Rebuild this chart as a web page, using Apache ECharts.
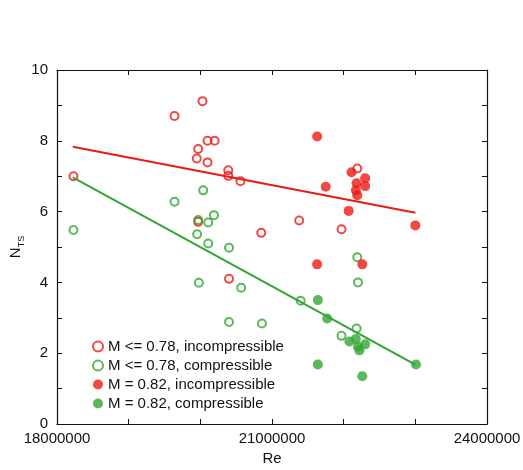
<!DOCTYPE html>
<html>
<head>
<meta charset="utf-8">
<script src="https://cdn.jsdelivr.net/npm/echarts@6/dist/echarts.min.js"></script>
<style>
  html, body { margin: 0; padding: 0; background: #fff; }
  #chart { width: 523px; height: 470px; }
</style>
</head>
<body>
<div id="chart"></div>
<script>
// Re = Reynolds number, N_TS = transition N-factor
const seriesNames = [
  'M <= 0.78, incompressible',
  'M <= 0.78, compressible',
  'M = 0.82, incompressible',
  'M = 0.82, compressible'
];

const lowMachIncomp = [
  [18.23e6, 7.00], [19.64e6, 8.70], [20.03e6, 9.12], [20.10e6, 8.00], [20.20e6, 8.00],
  [19.97e6, 7.77], [19.95e6, 7.50], [20.10e6, 7.39], [20.39e6, 7.17], [20.39e6, 7.01],
  [20.56e6, 6.86], [19.97e6, 5.71], [20.85e6, 5.40], [20.40e6, 4.10], [21.38e6, 5.75],
  [21.97e6, 5.50], [22.19e6, 7.22]
];

const lowMachComp = [
  [18.23e6, 5.48], [19.64e6, 6.28], [20.04e6, 6.60], [20.19e6, 5.90], [19.97e6, 5.76],
  [20.11e6, 5.69], [19.955e6, 5.36], [20.11e6, 5.10], [20.40e6, 4.98], [19.98e6, 3.99],
  [20.57e6, 3.85], [20.40e6, 2.88], [20.86e6, 2.84], [21.40e6, 3.48], [22.19e6, 4.71],
  [22.20e6, 4.00], [22.18e6, 2.70], [21.97e6, 2.49]
];

const highMachIncomp = [
  [21.63e6, 8.12], [22.11e6, 7.11], [22.30e6, 6.94], [21.75e6, 6.70], [22.18e6, 6.80],
  [22.30e6, 6.72], [22.17e6, 6.60], [22.19e6, 6.46], [22.07e6, 6.02], [23.00e6, 5.61],
  [21.63e6, 4.51], [22.26e6, 4.51]
];

const highMachComp = [
  [21.64e6, 3.50], [21.77e6, 2.98], [22.08e6, 2.33], [22.17e6, 2.40], [22.20e6, 2.18],
  [22.30e6, 2.25], [22.22e6, 2.08], [21.64e6, 1.68], [22.26e6, 1.35], [23.01e6, 1.68]
];

// least-squares fit lines (end points in data units)
const incompFit = [[18.22e6, 7.83], [23.00e6, 5.97]];
const compFit = [[18.22e6, 6.97], [23.00e6, 1.68]];

const xTickLabels = [18000000, 21000000, 24000000];
const yTickLabels = [0, 2, 4, 6, 8, 10];

const RED = '#ec1a14';
const GREEN = '#32a632';
const FONT = 'Liberation Sans';

function openSeries(name, data, color) {
  return {
    name, type: 'scatter', data,
    symbol: 'circle', symbolSize: 8,
    itemStyle: { color: 'rgba(255,255,255,0)', borderColor: color, borderWidth: 2 },
    emphasis: { disabled: true }
  };
}
function filledSeries(name, data, color) {
  return {
    name, type: 'scatter', data,
    symbol: 'circle', symbolSize: 10,
    itemStyle: { color: color, borderWidth: 0 },
    emphasis: { disabled: true }
  };
}
function fitSeries(data, color) {
  return {
    type: 'line', data, symbol: 'none', silent: true, z: 5,
    lineStyle: { color: color, width: 2 }
  };
}

const axisCommon = {
  axisLine: { show: true, onZero: false, lineStyle: { color: '#111', width: 1.2 } },
  axisTick: { show: true, inside: true, length: 5, lineStyle: { color: '#111' } },
  splitLine: { show: false }
};

const option = {
  animation: false,
  backgroundColor: '#fff',
  textStyle: { fontFamily: FONT },
  grid: { left: 57, right: 36, top: 70, bottom: 46, outerBoundsMode: 'none', containLabel: false },
  legend: {
    data: seriesNames,
    orient: 'vertical',
    left: 87, top: 334,
    itemWidth: 10, itemHeight: 10, itemGap: 4,
    icon: 'circle',
    textStyle: { fontFamily: FONT, fontSize: 15, color: '#111' },
    selectedMode: false
  },
  xAxis: [
    Object.assign({}, axisCommon, {
      type: 'value', min: 18000000, max: 24000000, interval: 1000000,
      name: 'Re', nameLocation: 'middle', nameGap: 27, nameMoveOverlap: false,
      nameTextStyle: { fontFamily: FONT, fontSize: 15, color: '#111' },
      axisLabel: {
        color: '#111', fontSize: 15, fontFamily: FONT, margin: 7,
        formatter: v => xTickLabels.includes(v) ? String(v) : ''
      }
    }),
    Object.assign({}, axisCommon, {
      type: 'value', position: 'top', min: 18000000, max: 24000000, interval: 1000000,
      axisLabel: { show: false }
    })
  ],
  yAxis: [
    Object.assign({}, axisCommon, {
      type: 'value', min: 0, max: 10, interval: 1,
      name: '{n|N}{s|TS}', nameLocation: 'middle', nameGap: 34, nameRotate: 90,
      nameMoveOverlap: false,
      nameTextStyle: {
        color: '#111',
        rich: {
          n: { fontFamily: FONT, fontSize: 15, color: '#111', verticalAlign: 'bottom' },
          s: { fontFamily: FONT, fontSize: 9, color: '#111', verticalAlign: 'bottom', padding: [0, 0, -3, 0] }
        }
      },
      axisLabel: {
        color: '#111', fontSize: 15, fontFamily: FONT, margin: 9,
        formatter: v => yTickLabels.includes(v) ? String(v) : ''
      }
    }),
    Object.assign({}, axisCommon, {
      type: 'value', position: 'right', min: 0, max: 10, interval: 1,
      axisLabel: { show: false }
    })
  ],
  series: [
    openSeries(seriesNames[0], lowMachIncomp, RED),
    openSeries(seriesNames[1], lowMachComp, GREEN),
    filledSeries(seriesNames[2], highMachIncomp, RED),
    filledSeries(seriesNames[3], highMachComp, GREEN),
    fitSeries(incompFit, RED),
    fitSeries(compFit, GREEN)
  ]
};

const chart = echarts.init(document.getElementById('chart'), null, { renderer: 'canvas' });
chart.setOption(option);
</script>
</body>
</html>
